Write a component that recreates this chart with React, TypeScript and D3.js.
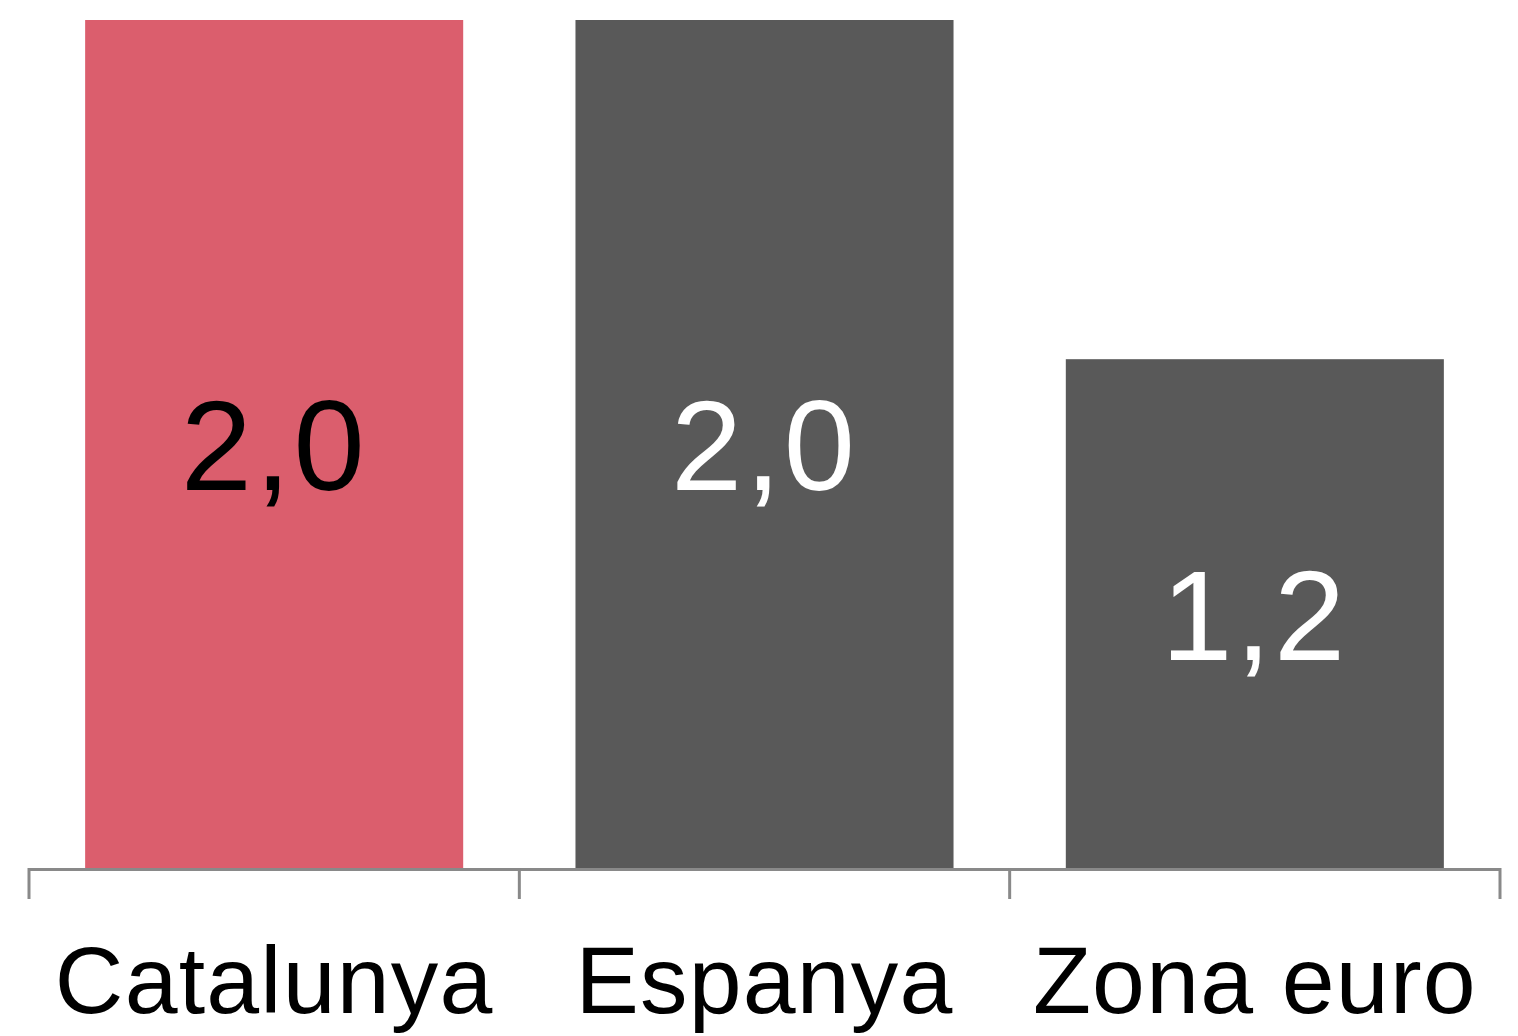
import React, { useEffect, useRef } from "react";
import * as d3 from "d3";

const categories = ["Catalunya", "Espanya", "Zona euro"];
const values = [2.0, 2.0, 1.2];
const valueLabels = ["2,0", "2,0", "1,2"];
const barColors = ["#DB5E6D", "#595959", "#595959"];
const labelColors = ["#000000", "#FFFFFF", "#FFFFFF"];

const WIDTH = 1518;
const HEIGHT = 1036;

export default function App() {
  const ref = useRef<SVGSVGElement | null>(null);

  useEffect(() => {
    const svg = d3.select(ref.current);
    svg.selectAll("*").remove();

    const x = d3.scaleBand<string>().domain(categories).range([29, 1500]).padding(0);
    const y = d3.scaleLinear().domain([0, 2]).range([868, 20]);
    const barW = x.bandwidth() * 0.771;
    const font = "'Liberation Sans', Arial, sans-serif";

    const g = svg.append("g");

    g.selectAll("rect.bar")
      .data(values)
      .enter()
      .append("rect")
      .attr("class", "bar")
      .attr("x", (d, i) => (x(categories[i]) as number) + (x.bandwidth() - barW) / 2)
      .attr("y", d => y(d))
      .attr("width", barW)
      .attr("height", d => y(0) - y(d))
      .attr("fill", (d, i) => barColors[i]);

    // value labels in the middle of each bar
    g.selectAll("text.val")
      .data(values)
      .enter()
      .append("text")
      .attr("class", "val")
      .attr("x", (d, i) => (x(categories[i]) as number) + x.bandwidth() / 2)
      .attr("y", d => (y(d) + y(0)) / 2 + 46)
      .attr("text-anchor", "middle")
      .attr("font-family", font)
      .attr("font-size", 128)
      .attr("letter-spacing", 3)
      .attr("fill", (d, i) => labelColors[i])
      .text((d, i) => valueLabels[i]);

    // axis line + ticks
    const axisColor = "#898989";
    g.append("line")
      .attr("x1", 29)
      .attr("x2", 1500)
      .attr("y1", 869.5)
      .attr("y2", 869.5)
      .attr("stroke", axisColor)
      .attr("stroke-width", 3);

    const tickPos = categories.map(c => x(c) as number).concat([x.range()[1]]);
    g.selectAll("line.tick")
      .data(tickPos)
      .enter()
      .append("line")
      .attr("class", "tick")
      .attr("x1", d => d)
      .attr("x2", d => d)
      .attr("y1", 868)
      .attr("y2", 899)
      .attr("stroke", axisColor)
      .attr("stroke-width", 3);

    g.selectAll("text.cat")
      .data(categories)
      .enter()
      .append("text")
      .attr("class", "cat")
      .attr("x", d => (x(d) as number) + x.bandwidth() / 2)
      .attr("y", 1013)
      .attr("text-anchor", "middle")
      .attr("font-family", font)
      .attr("font-size", 95)
      .attr("letter-spacing", 1.2)
      .attr("fill", "#000000")
      .text(d => d);
  }, []);

  return (
    <svg
      ref={ref}
      width={WIDTH}
      height={HEIGHT}
      style={{ position: "absolute", left: 0, top: 0, background: "#fff" }}
    />
  );
}
